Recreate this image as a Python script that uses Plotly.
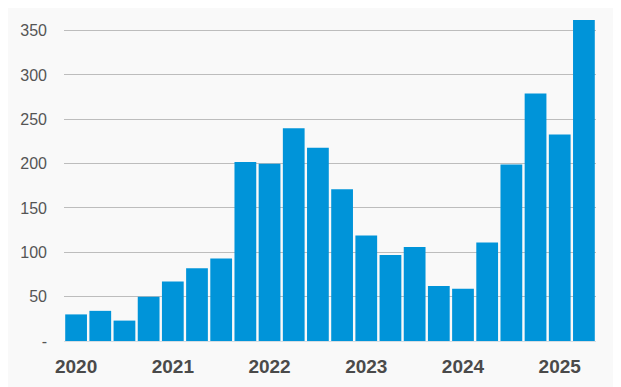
import plotly.graph_objects as go

quarters = [f"{y} Q{q}" for y in range(2020, 2026) for q in range(1, 5)][:22]
values = [30, 34, 23, 50, 67, 82, 93, 202, 200, 240, 218, 171,
          119, 97, 106, 62, 59, 111, 199, 279, 233, 362]
year_ticks = ["2020 Q1", "2021 Q1", "2022 Q1", "2023 Q1", "2024 Q1", "2025 Q1"]
year_labels = ["2020", "2021", "2022", "2023", "2024", "2025"]
y_tickvals = [0, 50, 100, 150, 200, 250, 300, 350]
y_ticktext = ["-", "50", "100", "150", "200", "250", "300", "350"]

fig = go.Figure(go.Bar(x=quarters, y=values, marker_color="#0094d9",
                       marker_line_width=0))

fig.update_layout(
    width=621, height=387,
    margin=dict(l=50, r=33, t=12, b=54),
    paper_bgcolor="#f9f9f9", plot_bgcolor="#f9f9f9",
    bargap=0.1,
    showlegend=False,
    font=dict(family="Liberation Sans, Arial, sans-serif"),
)
fig.update_xaxes(
    type="category", categoryorder="array", categoryarray=quarters,
    tickvals=year_ticks, ticktext=year_labels,
    tickfont=dict(size=19, color="#4a4a4a", weight="bold"),
    showgrid=False, ticks="", ticklabelstandoff=8,
    showline=True, linecolor="#d6dde3", linewidth=1,
)
fig.update_yaxes(
    range=[0, 362], tickvals=y_tickvals, ticktext=y_ticktext,
    tickfont=dict(size=16, color="#555555"),
    showgrid=True, gridcolor="#bdbdbd", gridwidth=1,
    zeroline=False, ticks="", ticklabelstandoff=16,
)

fig.write_html("out.html")
